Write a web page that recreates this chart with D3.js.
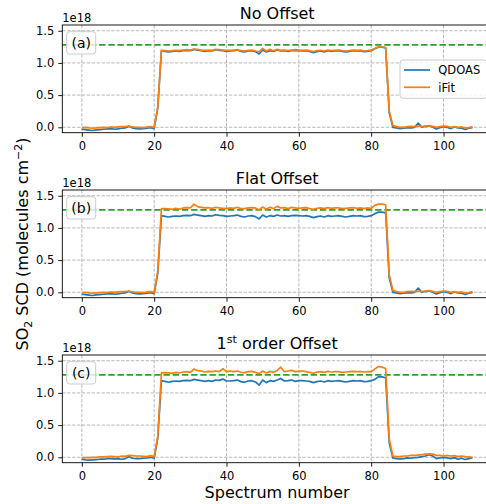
<!DOCTYPE html>
<html>
<head>
<meta charset="utf-8">
<script src="https://cdn.jsdelivr.net/npm/d3@7"></script>
<style>
body { margin: 0; background: #fff; }
text { font-family: "DejaVu Sans", sans-serif; fill: #000; }
</style>
</head>
<body>
<div id="chart"></div>
<script>
// SO2 slant column densities, units of 1e18 molecules cm-2, spectrum 0..108
var qdoas = [
    -0.03, -0.035, -0.045, -0.05, -0.04, -0.035, -0.03, -0.025, -0.02, -0.03, -0.025, -0.015, -0.01, 0.015, -0.01, -0.02, -0.025, -0.02, -0.015, -0.005, -0.02,
    0.30,
    1.19, 1.18, 1.17, 1.18, 1.185, 1.18, 1.19, 1.195, 1.19, 1.21,
    1.20, 1.19, 1.18, 1.19, 1.185, 1.205, 1.195, 1.19, 1.18, 1.185,
    1.19, 1.20, 1.18, 1.17, 1.185, 1.19, 1.175, 1.14, 1.20, 1.17,
    1.19, 1.18, 1.20, 1.185, 1.19, 1.18, 1.19, 1.195, 1.19, 1.185,
    1.19, 1.18, 1.16, 1.175, 1.185, 1.17, 1.19, 1.18, 1.185, 1.19,
    1.18, 1.17, 1.18, 1.19, 1.185, 1.19, 1.175, 1.18, 1.19, 1.22,
    1.245, 1.245, 1.235,
    0.22,
    0.0, -0.01, -0.02, -0.015, -0.005, -0.01, 0.0, 0.065, 0.0, 0.015, 0.02, 0.005, -0.025, -0.005, 0.01, 0.0, -0.02, 0.005, -0.01, -0.015, -0.035, -0.015, -0.005
];

var qdoas_c = [
    -0.03, -0.04, -0.045, -0.04, -0.035, -0.03, -0.03, -0.02, -0.02, -0.025, -0.02, -0.03, -0.02, 0.01, -0.015, -0.02, -0.02, -0.015, -0.01, 0.0, -0.015,
    0.30,
    1.19, 1.18, 1.165, 1.18, 1.185, 1.18, 1.19, 1.195, 1.19, 1.21,
    1.20, 1.19, 1.18, 1.19, 1.18, 1.20, 1.195, 1.215, 1.185, 1.185,
    1.19, 1.20, 1.175, 1.165, 1.185, 1.19, 1.17, 1.12, 1.20, 1.16,
    1.19, 1.18, 1.20, 1.225, 1.185, 1.19, 1.20, 1.18, 1.19, 1.19,
    1.185, 1.18, 1.16, 1.175, 1.185, 1.17, 1.19, 1.18, 1.185, 1.19,
    1.18, 1.17, 1.18, 1.19, 1.185, 1.19, 1.175, 1.18, 1.19, 1.21,
    1.25, 1.25, 1.235,
    0.22,
    -0.01, -0.02, -0.025, -0.02, -0.01, -0.015, -0.005, 0.0, 0.01, 0.02, 0.04, 0.02, -0.02, -0.01, 0.0, -0.01, -0.02, -0.005, -0.03, -0.015, -0.035, -0.02, -0.01
];

var ifit_a = [
    -0.01, 0.0, -0.01, -0.015, -0.01, -0.005, 0.0, -0.005, 0.005, 0.0, 0.005, 0.01, 0.01, 0.02, 0.005, 0.0, 0.0, -0.005, 0.005, 0.01, 0.0,
    0.32,
    1.195, 1.19, 1.185, 1.19, 1.195, 1.19, 1.20, 1.205, 1.20, 1.215,
    1.21, 1.20, 1.195, 1.20, 1.195, 1.21, 1.205, 1.20, 1.195, 1.195,
    1.20, 1.205, 1.19, 1.185, 1.195, 1.20, 1.185, 1.17, 1.225, 1.185,
    1.21, 1.19, 1.21, 1.195, 1.20, 1.19, 1.20, 1.205, 1.20, 1.195,
    1.20, 1.19, 1.175, 1.19, 1.195, 1.185, 1.20, 1.19, 1.195, 1.20,
    1.19, 1.185, 1.19, 1.20, 1.195, 1.20, 1.185, 1.19, 1.20, 1.225,
    1.25, 1.25, 1.24,
    0.25,
    0.03, 0.01, 0.0, 0.0, 0.01, 0.015, 0.01, 0.02, 0.01, 0.02, 0.025, 0.015, 0.0, 0.01, 0.02, 0.015, 0.0, 0.01, 0.0, 0.005, -0.01, -0.005, 0.01
];

var ifit_b = [
    -0.01, 0.0, -0.01, -0.015, -0.01, -0.005, 0.0, -0.005, 0.005, 0.0, 0.005, 0.01, 0.01, 0.02, 0.005, 0.0, 0.0, -0.005, 0.005, 0.01, 0.0,
    0.33,
    1.30, 1.30, 1.295, 1.29, 1.305, 1.29, 1.31, 1.315, 1.31, 1.37,
    1.33, 1.32, 1.31, 1.315, 1.305, 1.32, 1.31, 1.305, 1.30, 1.31,
    1.305, 1.32, 1.30, 1.30, 1.31, 1.315, 1.31, 1.28, 1.325, 1.29,
    1.32, 1.30, 1.335, 1.31, 1.315, 1.30, 1.32, 1.31, 1.305, 1.31,
    1.315, 1.30, 1.29, 1.305, 1.31, 1.30, 1.315, 1.305, 1.31, 1.31,
    1.30, 1.305, 1.31, 1.315, 1.305, 1.31, 1.30, 1.31, 1.305, 1.35,
    1.37, 1.37, 1.36,
    0.27,
    0.03, 0.01, 0.0, 0.0, 0.01, 0.015, 0.01, 0.02, 0.01, 0.02, 0.025, 0.015, 0.0, 0.01, 0.02, 0.015, 0.0, 0.01, 0.0, 0.005, -0.01, -0.005, 0.01
];

var ifit_c = [
    -0.01, -0.005, -0.005, 0.0, 0.0, 0.005, 0.005, 0.01, 0.015, 0.01, 0.005, 0.02, 0.015, 0.03, 0.025, 0.02, 0.02, 0.015, 0.01, 0.025, 0.01,
    0.33,
    1.31, 1.315, 1.31, 1.305, 1.32, 1.31, 1.325, 1.33, 1.32, 1.37,
    1.345, 1.34, 1.325, 1.335, 1.33, 1.34, 1.33, 1.375, 1.33, 1.34,
    1.33, 1.34, 1.32, 1.315, 1.33, 1.335, 1.32, 1.30, 1.34, 1.31,
    1.335, 1.32, 1.35, 1.40, 1.33, 1.34, 1.35, 1.33, 1.335, 1.34,
    1.33, 1.32, 1.305, 1.325, 1.33, 1.32, 1.335, 1.325, 1.33, 1.33,
    1.32, 1.325, 1.33, 1.335, 1.33, 1.33, 1.325, 1.33, 1.33, 1.37,
    1.41, 1.40, 1.38,
    0.28,
    0.02, 0.01, 0.01, 0.02, 0.02, 0.03, 0.03, 0.035, 0.04, 0.05, 0.055, 0.05, 0.03, 0.03, 0.02, 0.03, 0.02, 0.025, 0.01, 0.02, 0.01, 0.005, 0.0
];

var true_scd = 1.28;
var titles = ["No Offset", "Flat Offset", "1st order Offset"];
var panel_labels = ["(a)", "(b)", "(c)"];
var series_names = ["QDOAS", "iFit"];
var x_ticks = [0, 20, 40, 60, 80, 100];
var y_ticks = [0.0, 0.5, 1.0, 1.5];

var panels = [
    { title: titles[0], label: panel_labels[0], qdoas: qdoas, ifit: ifit_a },
    { title: titles[1], label: panel_labels[1], qdoas: qdoas, ifit: ifit_b },
    { title: titles[2], label: panel_labels[2], qdoas: qdoas_c, ifit: ifit_c }
];

var colors = { qdoas: "#1f77b4", ifit: "#ff7f0e", truth: "#2ca02c", grid: "#b0b0b0" };

var width = 486,
    height = 504,
    plot_left = 62.3,
    plot_right = 492,
    panel_tops = [25, 190, 355],
    panel_height = 107.7;

var x = d3.scaleLinear()
    .domain([-5.4, 113.4])
    .range([plot_left, plot_right]);

var y = d3.scaleLinear()
    .domain([-0.084, 1.589])
    .range([panel_height, 0]);

var line = d3.line()
    .x(function (d, i) { return x(i); })
    .y(function (d) { return y(d); });

var svg = d3.select("#chart").append("svg")
    .attr("width", width)
    .attr("height", height);

svg.append("rect")
    .attr("width", width)
    .attr("height", height)
    .attr("fill", "#fff");

panels.forEach(function (p, k) {
    var g = svg.append("g")
        .attr("transform", "translate(0," + panel_tops[k] + ")");

    // grid
    g.selectAll(".vgrid")
        .data(x_ticks)
        .enter().append("line")
        .attr("x1", function (d) { return x(d); })
        .attr("x2", function (d) { return x(d); })
        .attr("y1", 0)
        .attr("y2", panel_height)
        .attr("stroke", colors.grid)
        .attr("stroke-width", 0.9)
        .attr("stroke-dasharray", "3.4,1.5");

    g.selectAll(".hgrid")
        .data(y_ticks)
        .enter().append("line")
        .attr("x1", plot_left)
        .attr("x2", plot_right)
        .attr("y1", function (d) { return y(d); })
        .attr("y2", function (d) { return y(d); })
        .attr("stroke", colors.grid)
        .attr("stroke-width", 0.9)
        .attr("stroke-dasharray", "3.4,1.5");

    // reference value
    g.append("line")
        .attr("x1", plot_left)
        .attr("x2", plot_right)
        .attr("y1", y(true_scd))
        .attr("y2", y(true_scd))
        .attr("stroke", colors.truth)
        .attr("stroke-width", 1.7)
        .attr("stroke-dasharray", "6.4,2.8");

    g.append("path")
        .datum(p.qdoas)
        .attr("d", line)
        .attr("fill", "none")
        .attr("stroke", colors.qdoas)
        .attr("stroke-width", 1.7)
        .attr("stroke-linejoin", "round");

    g.append("path")
        .datum(p.ifit)
        .attr("d", line)
        .attr("fill", "none")
        .attr("stroke", colors.ifit)
        .attr("stroke-width", 1.7)
        .attr("stroke-linejoin", "round");

    // axes
    var xaxis = g.append("g")
        .attr("transform", "translate(0," + panel_height + ")")
        .call(d3.axisBottom(x).tickValues(x_ticks).tickSize(4).tickPadding(5).tickFormat(d3.format("d")));
    xaxis.select(".domain").remove();

    var yaxis = g.append("g")
        .attr("transform", "translate(" + plot_left + ",0)")
        .call(d3.axisLeft(y).tickValues(y_ticks).tickSize(4).tickPadding(4).tickFormat(d3.format(".1f")));
    yaxis.select(".domain").remove();

    g.selectAll(".tick line").attr("stroke", "#000").attr("stroke-width", 0.9);
    g.selectAll(".tick text")
        .style("font-family", "DejaVu Sans")
        .style("font-size", "11.5px")
        .attr("fill", "#000");

    // spines
    g.append("rect")
        .attr("x", plot_left)
        .attr("y", 0)
        .attr("width", plot_right - plot_left)
        .attr("height", panel_height)
        .attr("fill", "none")
        .attr("stroke", "#000")
        .attr("stroke-width", 0.9);

    g.append("text")
        .attr("x", plot_left)
        .attr("y", -3.5)
        .style("font-size", "11.5px")
        .text("1e18");

    // title
    var title = g.append("text")
        .attr("x", (plot_left + plot_right) / 2)
        .attr("y", -6)
        .attr("text-anchor", "middle")
        .style("font-size", "16px");
    if (p.title.indexOf("1st") === 0) {
        title.append("tspan").text("1");
        title.append("tspan").attr("dy", -6).style("font-size", "11px").text("st");
        title.append("tspan").attr("dy", 6).text(" order Offset");
    } else {
        title.text(p.title);
    }

    // panel letter box
    g.append("rect")
        .attr("x", 66.7)
        .attr("y", 6.7)
        .attr("width", 29)
        .attr("height", 22.3)
        .attr("rx", 3)
        .attr("fill", "#fff")
        .attr("fill-opacity", 0.8)
        .attr("stroke", "#cccccc")
        .attr("stroke-width", 1);

    g.append("text")
        .attr("x", 81.2)
        .attr("y", 22.6)
        .attr("text-anchor", "middle")
        .style("font-size", "14px")
        .text(p.label);

    // legend only on top panel
    if (k === 0) {
        var leg = g.append("g");
        leg.append("rect")
            .attr("x", 400)
            .attr("y", 35)
            .attr("width", 87)
            .attr("height", 38.3)
            .attr("rx", 3)
            .attr("fill", "#fff")
            .attr("fill-opacity", 0.8)
            .attr("stroke", "#cccccc")
            .attr("stroke-width", 1);

        leg.selectAll(".entry")
            .data(series_names)
            .enter().append("line")
            .attr("x1", 404)
            .attr("x2", 430)
            .attr("y1", function (d, i) { return 45 + i * 17.3; })
            .attr("y2", function (d, i) { return 45 + i * 17.3; })
            .attr("stroke", function (d, i) { return i === 0 ? colors.qdoas : colors.ifit; })
            .attr("stroke-width", 1.7);

        leg.selectAll(".entry-label")
            .data(series_names)
            .enter().append("text")
            .attr("x", 438.3)
            .attr("y", function (d, i) { return 49.2 + i * 17.3; })
            .style("font-size", "11.5px")
            .text(function (d) { return d; });
    }
});

// shared axis labels
var ylabel = svg.append("text")
    .attr("transform", "translate(28,244) rotate(-90)")
    .attr("text-anchor", "middle")
    .style("font-size", "16px");
ylabel.append("tspan").text("SO");
ylabel.append("tspan").attr("dy", 4).style("font-size", "11px").text("2");
ylabel.append("tspan").attr("dy", -4).text(" SCD (molecules cm");
ylabel.append("tspan").attr("dy", -6).style("font-size", "11px").text("\u22122");
ylabel.append("tspan").attr("dy", 6).text(")");

svg.append("text")
    .attr("x", (plot_left + plot_right) / 2)
    .attr("y", 498)
    .attr("text-anchor", "middle")
    .style("font-size", "16px")
    .text("Spectrum number");
</script>
</body>
</html>
